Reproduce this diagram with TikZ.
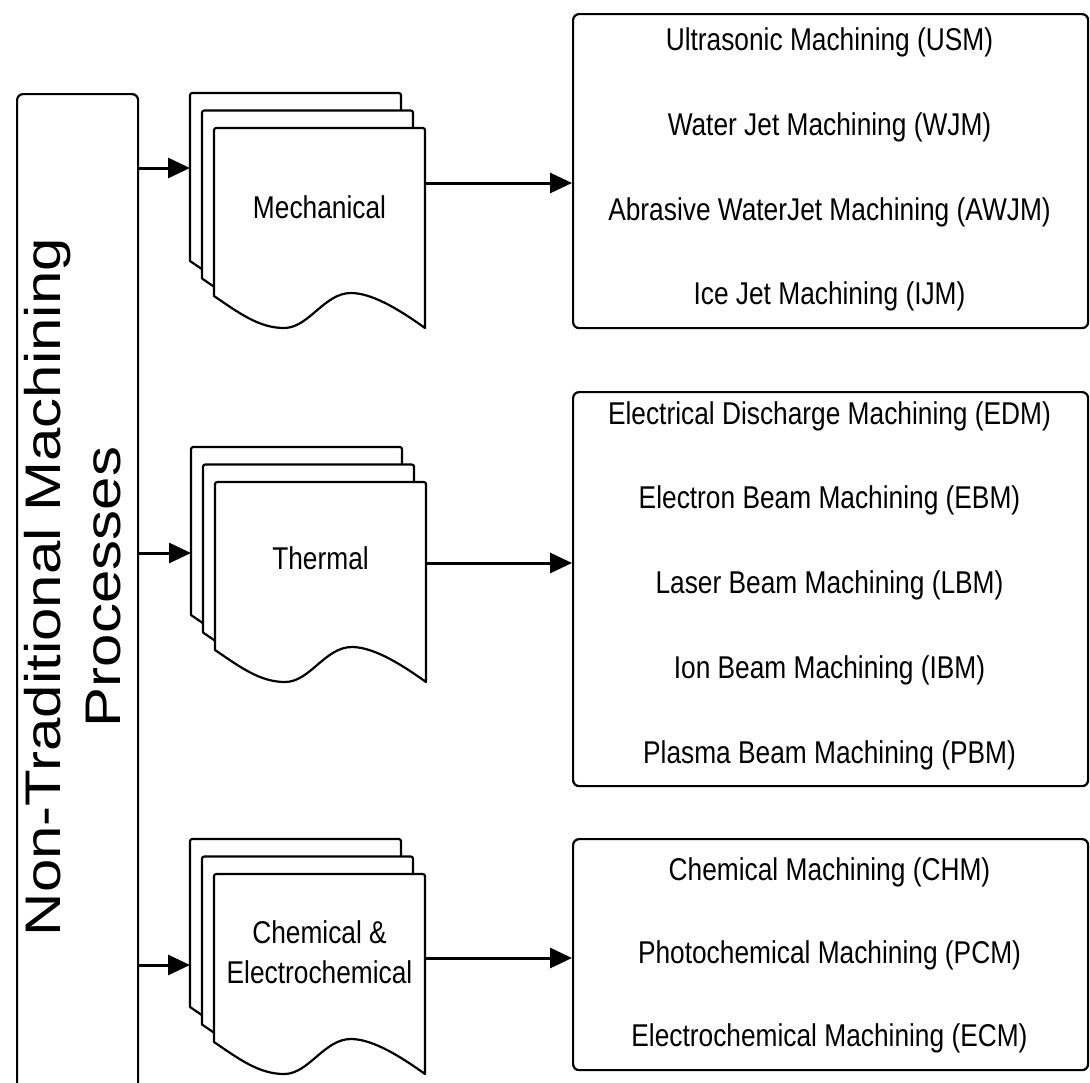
\documentclass[tikz,border=0pt]{standalone}
\usepackage{fontspec}
\setmainfont{Liberation Sans}
\newfontfamily\lblfont[FakeStretch=0.835]{Liberation Sans}
\newfontfamily\ttlfont[FakeStretch=1.2]{Liberation Sans}
\usetikzlibrary{arrows.meta}
\tikzset{
  box/.style={draw=black, line width=2.2pt, rounded corners=6pt, fill=white, inner sep=0pt, anchor=north west},
  sheet/.style={draw=black, line width=2.2pt, fill=white, line join=round},
  arr/.style={line width=3pt, -{Triangle[length=22pt,width=20pt]}},
  lbl/.style={font=\lblfont\fontsize{31.5}{40}\selectfont, align=center, inner sep=0pt},
  ttl/.style={font=\ttlfont\fontsize{50}{60}\selectfont, rotate=90, anchor=base, inner sep=0pt},
  docpage/.pic={
    \draw[sheet] (0,168) -- (0,5) .. controls (0,0) .. (5,0) -- (206,0)
      .. controls (211,0) .. (211,5) -- (211,200)
      .. controls (190,185) and (160,165) .. (137,165)
      .. controls (110,165) and (95,200) .. (70,200)
      .. controls (45,200) and (25,185) .. (0,168) -- cycle;
  }
}
\begin{document}
\begin{tikzpicture}[x=1pt,y=-1pt]
\fill[white] (0,0) rectangle (1090,1082);
\clip (0,0) rectangle (1090,1082);

% root box
\node[box, minimum width=121pt, minimum height=1100pt] (root) at (16,93) {};
\node[ttl] (t1) at (60,587) {Non-Traditional Machining};
\node[ttl] (t2) at (120,587) {Processes};

% mechanical stack
\pic at (190,93) {docpage};
\pic at (202,110.5) {docpage};
\pic at (214,128) {docpage};
\node[lbl] (mech) at (319.5,207) {Mechanical};
\coordinate (mechIn) at (190,168);
\coordinate (mechOut) at (425,183);

% thermal stack
\pic at (191,447) {docpage};
\pic at (203,464.5) {docpage};
\pic at (215,482) {docpage};
\node[lbl] (therm) at (320.5,558) {Thermal};
\coordinate (thermIn) at (191,553);
\coordinate (thermOut) at (426,563);

% chemical stack
\pic at (190,839) {docpage};
\pic at (202,856.5) {docpage};
\pic at (214,874) {docpage};
\node[lbl] (chem) at (319.5,952) {Chemical \&\\Electrochemical};
\coordinate (chemIn) at (190,965);
\coordinate (chemOut) at (425,958);

% right boxes
\node[box, minimum width=515pt, minimum height=314pt] (b1) at (572,13) {};
\node[box, minimum width=515pt, minimum height=394pt] (b2) at (572,391) {};
\node[box, minimum width=515pt, minimum height=231pt] (b3) at (572,838) {};

\node[lbl] (usm) at (829.5,42) {Ultrasonic Machining (USM)};
\node[lbl] (wjm) at (829.5,127) {Water Jet Machining (WJM)};
\node[lbl] (awjm) at (829.5,212) {Abrasive WaterJet Machining (AWJM)};
\node[lbl] (ijm) at (829.5,296) {Ice Jet Machining (IJM)};

\node[lbl] (edm) at (829.5,416) {Electrical Discharge Machining (EDM)};
\node[lbl] (ebm) at (829.5,500.75) {Electron Beam Machining (EBM)};
\node[lbl] (lbm) at (829.5,585.5) {Laser Beam Machining (LBM)};
\node[lbl] (ibm) at (829.5,670.25) {Ion Beam Machining (IBM)};
\node[lbl] (pbm) at (829.5,755) {Plasma Beam Machining (PBM)};

\node[lbl] (chm) at (829.5,872) {Chemical Machining (CHM)};
\node[lbl] (pcm) at (829.5,955) {Photochemical Machining (PCM)};
\node[lbl] (ecm) at (829.5,1038) {Electrochemical Machining (ECM)};

% connectors
\draw[arr] (root.east |- mechIn) -- (mechIn);
\draw[arr] (root.east |- thermIn) -- (thermIn);
\draw[arr] (root.east |- chemIn) -- (chemIn);
\draw[arr] (mechOut) -- (b1.west |- mechOut);
\draw[arr] (thermOut) -- (b2.west |- thermOut);
\draw[arr] (chemOut) -- (b3.west |- chemOut);
\end{tikzpicture}
\end{document}
